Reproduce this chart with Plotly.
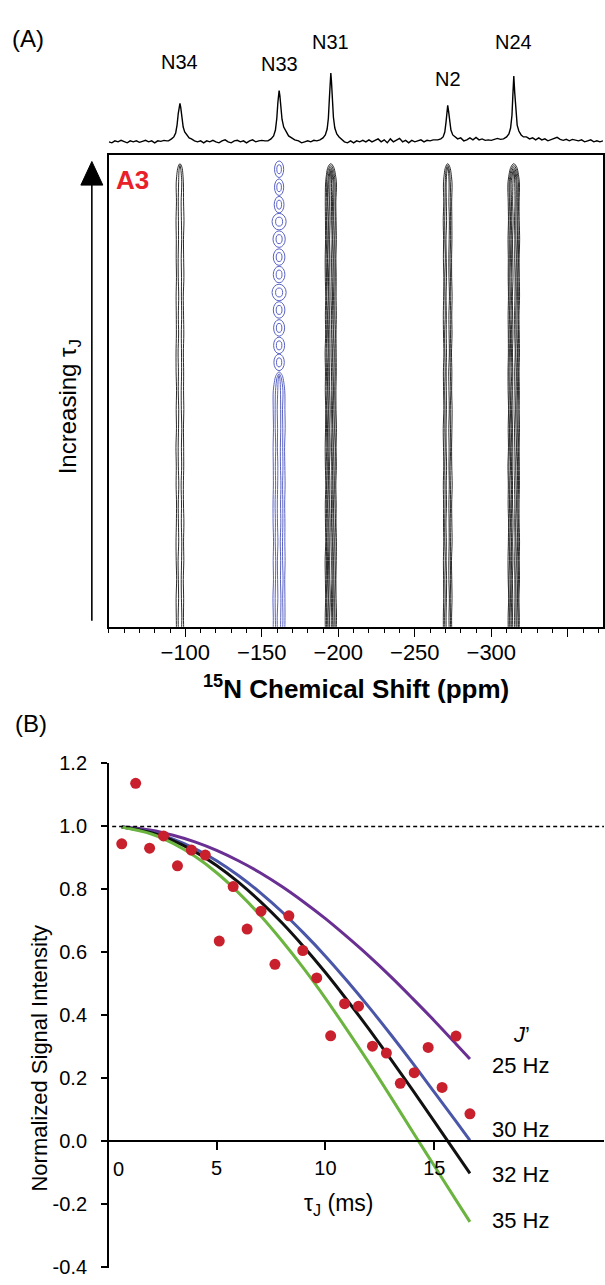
import plotly.graph_objects as go

W, H = 605, 1285
FONT = "Liberation Sans, Arial, sans-serif"

# ---- (A) 1D 15N projection (ppm, height) ------------------------------
spec_ppm = [-50, -52, -54, -56, -58, -60, -62, -64, -66, -68, -70, -72, -74, -76, -78, -80,
            -82, -84, -86, -88,
            -89, -91, -92.5, -93.7, -94.6, -95.4, -96, -96.5, -97, -97.7, -98.6, -99.6,
            -101, -102.5, -104,
            -106, -108, -110, -112, -114, -116, -118, -120, -122, -124, -126, -128, -130,
            -132, -134, -136, -138, -140, -142, -144, -146, -148, -150, -152,
            -154, -156, -157.7, -158.9, -159.8, -160.5, -161, -161.3, -161.8, -162.4,
            -163.2, -164.3, -165.8, -167.5, -169.5, -171.5,
            -174, -176, -178, -180, -182, -184, -186,
            -188, -190, -191.5, -192.7, -193.5, -194.2, -194.7, -195.1, -195.5, -196,
            -196.8, -197.7, -199, -200.5, -202,
            -204, -206, -208, -210, -212, -214, -216, -218, -220, -222, -224, -226, -228,
            -230, -232, -234, -236, -238, -240, -242, -244, -246, -248, -250, -252, -254,
            -256, -258, -260, -262,
            -265, -267, -268.5, -269.6, -270.4, -271, -271.5, -272, -272.7, -273.6,
            -274.8, -276.5, -278, -280,
            -282, -284, -286, -288, -290, -292, -294, -296, -298, -300, -302, -304, -306,
            -308, -310, -311.5, -312.6, -313.5, -314.1, -314.7, -315.3, -316, -316.9,
            -318, -319.5, -321, -323,
            -325, -327, -329, -331, -333, -335, -337, -339, -341, -343, -345, -347, -349,
            -351, -353, -355, -357, -359, -361, -363, -365, -367, -369, -371, -373]
spec_int = [0, -1, 1, 0, 1.5, 0, -1, 1, 0, 1, -0.5, 0.5, 1.5, 0, 1, -1,
            1, 0.5, 1.5, 1,
            1, 3, 5, 9, 17, 29, 37, 39, 35, 25, 15, 10,
            7, 4, 3,
            1, 0, 1, -1, 1, 0, 1.5, 0, -1, 1, 2, 0, -1,
            1, 1.5, 0, 1, -1, 1, 2, 0, 1, 1.5, 1,
            1, 3, 6, 12, 24, 40, 50, 52, 47, 35,
            23, 15, 10, 6, 4, 2,
            1, -1, 0, 1, 0, 1.5, 1,
            2, 4, 7, 13, 24, 45, 62, 70, 62, 45,
            25, 14, 8, 5, 3,
            0, -1, 1, -1, 1, 0, 1.5, 0, 2, 0, 1.5, 3, 0,
            2, -1, 3, 0, 2, 3.5, 0, 1.5, -1, 1.5, 0, 1, 2,
            0, 1.5, 1, 2,
            2, 3, 5, 10, 20, 31, 37, 32, 21, 12,
            7, 5, 3, 4,
            1, 2, 4, 2, 4.5, 2, 3, 1.5, 2, 1.5, 2.5, 3.5, 2.5,
            3, 5, 8, 14, 27, 48, 67, 50, 30, 17,
            11, 7, 5, 5,
            3, 4, 2, 4, 2, 3, 1, 2, 3, 4.5, 2.5, 1.5, 2.5,
            1, 2.5, 1.5, 1, 2, 0, 1, 2, 0, 1, 0, 1]

peak_names = ["N34", "N33", "N31", "N2", "N24"]
peak_ppm = [-96.5, -161.3, -195.1, -271.5, -314.7]
peak_height = [39, 52, 70, 37, 67]

# contour strips of the J-evolution series (nested contour half-widths, ppm)
contour_widths = [[1.0, 2.4], [1.0, 2.4, 3.8], [0.6, 1.3, 2.0, 2.8, 3.5],
                  [0.9, 1.8, 2.7], [0.7, 1.5, 2.3, 3.0, 3.6]]
contour_colour = ["#2b2b2b", "#5a63c4", "#2b2b2b", "#2b2b2b", "#2b2b2b"]
# N33 breaks up into separate blobs in the upper (long tau_J) rows
n33_blob_rows = [0.969, 0.931, 0.894, 0.858, 0.821, 0.783, 0.746, 0.708, 0.671, 0.633, 0.596, 0.560]
n33_blob_halfwidth = [3.0, 3.0, 3.2, 4.6, 4.0, 3.8, 3.8, 4.6, 3.8, 3.6, 3.6, 3.4]
n33_strip_top = 0.54
ridge_wobble = [0, 0.3, -0.2, 0.1, 0.4, -0.3, 0, 0.2, -0.4, 0.1, 0.3, -0.1, -0.3,
                0.2, 0, 0.4, -0.2, 0.1, -0.3, 0.2, 0.3, -0.1, 0, 0.2, -0.2, 0.1]

# ---- (B) N33 signal decay ----------------------------------------------
tau_ms = [0.64, 1.28, 1.92, 2.56, 3.2, 3.84, 4.48, 5.12, 5.76, 6.4, 7.04, 7.68, 8.32,
          8.96, 9.6, 10.24, 10.88, 11.52, 12.16, 12.8, 13.44, 14.08, 14.72, 15.36, 16.0, 16.64]
intensity = [0.945, 1.137, 0.931, 0.970, 0.875, 0.925, 0.909, 0.636, 0.809, 0.674, 0.731,
             0.562, 0.716, 0.606, 0.519, 0.335, 0.437, 0.429, 0.302, 0.280, 0.184, 0.218,
             0.298, 0.171, 0.334, 0.087]

tau_fit = [0.64, 2, 3, 4, 5, 6, 7, 8, 9, 10, 11, 12, 13, 14, 15, 16, 16.64]
fit_25 = [0.999, 0.988, 0.972, 0.951, 0.924, 0.891, 0.853, 0.809, 0.760, 0.707, 0.649,
          0.588, 0.523, 0.454, 0.383, 0.309, 0.261]
fit_30 = [0.998, 0.982, 0.960, 0.930, 0.891, 0.844, 0.790, 0.729, 0.661, 0.588, 0.509,
          0.426, 0.339, 0.249, 0.156, 0.063, 0.003]
fit_32 = [0.998, 0.980, 0.955, 0.920, 0.876, 0.823, 0.762, 0.694, 0.618, 0.536, 0.448,
          0.356, 0.261, 0.163, 0.063, -0.038, -0.102]
fit_35 = [0.998, 0.976, 0.946, 0.905, 0.853, 0.790, 0.718, 0.637, 0.549, 0.454, 0.353,
          0.249, 0.141, 0.031, -0.078, -0.187, -0.256]
fit_labels = ["25 Hz", "30 Hz", "32 Hz", "35 Hz"]
fit_colours = ["#6a2f92", "#4a56a8", "#111111", "#6ab43f"]


def px(x):
    return x / W


def py(y):
    return 1 - y / H


fig = go.Figure()

# projection trace
fig.add_trace(go.Scatter(x=spec_ppm, y=spec_int, xaxis="x", yaxis="y", mode="lines",
                         line=dict(color="black", width=1.4), hoverinfo="skip"))

# contour strips
rows = [-0.02 + 0.04 * i for i in range(26)]


def strip(centre, half, top, shift):
    side = [r for r in rows if r < top - 0.025]
    xs, ys = [], []
    for i, r in enumerate(side):
        xs.append(centre + half + 0.55 * ridge_wobble[(i + shift) % len(ridge_wobble)])
        ys.append(r)
    xs += [centre + 0.55 * half, centre, centre - 0.55 * half]
    ys += [top - 0.008, top, top - 0.008]
    for i in reversed(range(len(side))):
        xs.append(centre - half + 0.55 * ridge_wobble[(i + shift + 7) % len(ridge_wobble)])
        ys.append(side[i])
    return xs, ys


for p, (c, widths, col) in enumerate(zip(peak_ppm, contour_widths, contour_colour)):
    top_base = n33_strip_top if peak_names[p] == "N33" else 0.981
    for k, w in enumerate(widths):
        top = top_base - 0.004 * (len(widths) - 1 - k)
        xs, ys = strip(c, w, top, 3 * p + 5 * k)
        fig.add_trace(go.Scatter(x=xs, y=ys, xaxis="x2", yaxis="y2", mode="lines",
                                 line=dict(color=col, width=1, shape="spline", smoothing=0.8),
                                 hoverinfo="skip"))

shapes = []
c33 = peak_ppm[peak_names.index("N33")]
for r, w in zip(n33_blob_rows, n33_blob_halfwidth):
    for scale_w, half_h in [(1.0, 0.0175), (0.5, 0.0095)]:
        shapes.append(dict(type="circle", xref="x2", yref="y2",
                           x0=c33 - w * scale_w, x1=c33 + w * scale_w,
                           y0=r - half_h, y1=r + half_h,
                           line=dict(color="#5a63c4", width=1)))

# (B) fitted curves then data points
for ys, col in zip([fit_25, fit_30, fit_32, fit_35], fit_colours):
    fig.add_trace(go.Scatter(x=tau_fit, y=ys, xaxis="x3", yaxis="y3", mode="lines",
                             line=dict(color=col, width=3, shape="spline"), hoverinfo="skip"))
fig.add_trace(go.Scatter(x=tau_ms, y=intensity, xaxis="x3", yaxis="y3", mode="markers",
                         marker=dict(color="#c8202c", size=11), hoverinfo="skip"))

shapes.append(dict(type="line", xref="x3", yref="y3", x0=0.2, x1=22.8, y0=1, y1=1,
                   line=dict(color="black", width=1.5, dash="4px,3px")))
# "Increasing tau_J" arrow
shapes.append(dict(type="line", xref="paper", yref="paper", x0=px(92), x1=px(92),
                   y0=py(620), y1=py(172), line=dict(color="black", width=1.6)))
shapes.append(dict(type="path", xref="paper", yref="paper",
                   path=f"M {px(92)} {py(153)} L {px(81)} {py(177)} L {px(103)} {py(177)} Z",
                   fillcolor="black", line=dict(color="black", width=1)))

ann = []
label_lift = [28, 14, 18, 13, 21]
for name, c, h, lift in zip(peak_names, peak_ppm, peak_height, label_lift):
    ann.append(dict(x=c, y=h, xref="x", yref="y", text=name, showarrow=False,
                    yshift=lift, yanchor="bottom", xanchor="center",
                    font=dict(size=20, color="black")))

ann += [
    dict(x=px(28), y=py(28), text="(A)", font=dict(size=24)),
    dict(x=px(31), y=py(724), text="(B)", font=dict(size=24)),
    dict(x=px(114), y=py(172), text="<b>A3</b>", xanchor="left",
         font=dict(size=26, color="#e8202a")),
    dict(x=px(70), y=py(402), text="Increasing τ<sub>J</sub>", textangle=-90, font=dict(size=24)),
    dict(x=px(357), y=py(688), text="<b><sup>15</sup>N Chemical Shift (ppm)</b>", font=dict(size=26)),
    dict(x=px(40), y=py(1064), text="Normalized Signal Intensity", textangle=-90, font=dict(size=22)),
    dict(x=px(340), y=py(1213), text="τ<sub>J</sub> (ms)", font=dict(size=23)),
    dict(x=px(119), y=py(1177), text="0", font=dict(size=20)),
    dict(x=px(512), y=py(1040), text="<i>J</i>’", xanchor="left", font=dict(size=22)),
]
for lab, yy in zip(fit_labels, [1072, 1137, 1183, 1230]):
    ann.append(dict(x=px(491), y=py(yy), text=lab, xanchor="left", font=dict(size=22)))
for a in ann:
    a.setdefault("xref", "paper")
    a.setdefault("yref", "paper")
    a.setdefault("showarrow", False)
    a.setdefault("xanchor", "center")
    a.setdefault("yanchor", "middle")

ppm_dom = [px(109), px(604)]
fig.update_layout(
    width=W, height=H, margin=dict(l=0, r=0, t=0, b=0),
    paper_bgcolor="white", plot_bgcolor="white", showlegend=False,
    font=dict(family=FONT, color="black"),
    shapes=shapes, annotations=ann,
    xaxis=dict(domain=ppm_dom, range=[-50, -373], visible=False, anchor="y"),
    yaxis=dict(domain=[py(140), py(30)], range=[-7, 103], visible=False, anchor="x"),
    xaxis2=dict(domain=ppm_dom, range=[-50, -373], anchor="y2", showline=True, mirror=True,
                linecolor="black", linewidth=1.5, showgrid=False, zeroline=False,
                ticks="outside", ticklen=8, tickwidth=1.3, tickcolor="black",
                tickvals=[-100, -150, -200, -250, -300, -350],
                ticktext=["−100", "−150", "−200", "−250", "−300", " "],
                tickfont=dict(size=22), ticklabelstandoff=-3,
                minor=dict(tickmode="linear", tick0=0, dtick=10, ticks="outside",
                           ticklen=4, tickwidth=1.3, tickcolor="black", showgrid=False)),
    yaxis2=dict(domain=[py(626), py(146)], range=[0, 1], anchor="x2", showline=True,
                mirror=True, linecolor="black", linewidth=1.5, showgrid=False,
                zeroline=False, showticklabels=False, ticks=""),
    xaxis3=dict(domain=[px(108), 1], range=[0, 22.8], anchor="free", position=py(1149),
                showline=True, linecolor="black", linewidth=1.5, showgrid=False,
                zeroline=False, ticks="outside", ticklen=8, tickwidth=1.5,
                tickcolor="black", tickvals=[5, 10, 15], tickfont=dict(size=20),
                ticklabelstandoff=1),
    yaxis3=dict(domain=[py(1278), py(765)], range=[-0.403, 1.2], anchor="free",
                position=px(108), showline=True, linecolor="black", linewidth=1.5,
                showgrid=False, zeroline=False, ticks="outside", ticklen=6,
                tickwidth=1.5, tickcolor="black", ticklabeloverflow="allow",
                tickvals=[-0.4, -0.2, 0, 0.2, 0.4, 0.6, 0.8, 1.0, 1.2],
                ticktext=["-0.4", "-0.2", "0.0", "0.2", "0.4", "0.6", "0.8", "1.0", "1.2"],
                tickfont=dict(size=20), ticklabelstandoff=10),
)

fig.write_html("out.html", config={"displayModeBar": False},
               post_script="document.body.style.margin = '0px';")
